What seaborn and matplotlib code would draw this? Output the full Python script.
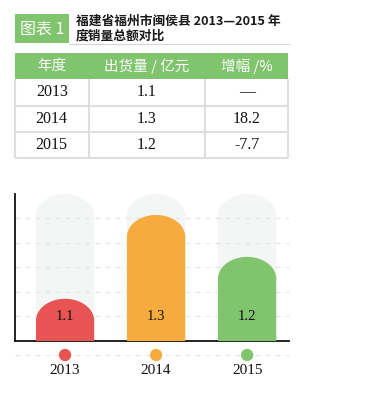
import numpy as np
import pandas as pd
import matplotlib
matplotlib.use("Agg")
import matplotlib.pyplot as plt
from matplotlib.path import Path
from matplotlib.patches import PathPatch, Rectangle
import seaborn as sns

# ---------------- data ----------------
years = ["2013", "2014", "2015"]
shipments = [1.1, 1.3, 1.2]          # 出货量 / 亿元
growth = ["—", "18.2", "-7.7"]       # 增幅 /%
header = ["年度", "出货量 / 亿元", "增幅 /%"]
bar_colors = ["#E85353", "#F5AB3D", "#80C46E"]
track_value = 1.35
y_min = 1.0
title_tag = "图表 1"
title_lines = ["福建省福州市闽侯县 2013—2015 年", "度销量总额对比"]

GREEN = "#80C46E"
LINE = "#DEDEDE"
CJK = ["Noto Sans CJK SC", "DejaVu Sans"]
SERIF = ["Liberation Serif", "DejaVu Serif"]

sns.set_theme(style="white")
plt.rcParams["font.family"] = CJK

W, H = 374, 400
fig = plt.figure(figsize=(W / 100, H / 100), dpi=100)
fig.patch.set_facecolor("white")

# ---------------- overlay (title + table) in pixel coords ----------------
ov = fig.add_axes([0, 0, 1, 1])
ov.set_xlim(0, W)
ov.set_ylim(H, 0)
ov.axis("off")

# title tag
ov.add_patch(Rectangle((15, 14), 54.3, 29.3, facecolor=GREEN, edgecolor="none"))
ov.text(42, 29, title_tag, color="white", fontsize=11.5, ha="center", va="center", family=CJK)
ov.text(76, 21.5, title_lines[0], color="#1a1a1a", fontsize=9.2, fontweight="bold",
        ha="left", va="center", family=CJK)
ov.text(76, 36, title_lines[1], color="#1a1a1a", fontsize=9.2, fontweight="bold",
        ha="left", va="center", family=CJK)
ov.plot([69, 289], [43.6, 43.6], color="#D5D5D5", lw=0.8)

# table
tx0, tx1 = 15, 288.3
col_edges = [15, 88.7, 204.7, 288.3]
col_centers = [51.7, 146.7, 246.7]
hy0, hy1 = 53.3, 79
row_edges = [79, 106, 132.3, 158.3]
ov.add_patch(Rectangle((tx0, hy0), tx1 - tx0, hy1 - hy0, facecolor=GREEN, edgecolor="none"))
for c, h in zip(col_centers, header):
    ov.text(c, (hy0 + hy1) / 2, h, color="white", fontsize=10.5, ha="center",
            va="center", family=CJK)
# grid lines of table
for x in col_edges:
    ov.plot([x, x], [hy1, row_edges[-1]], color=LINE, lw=1.5, solid_capstyle="butt")
for y in row_edges[1:]:
    ov.plot([tx0, tx1], [y, y], color=LINE, lw=1.5, solid_capstyle="butt")
for i, (yr, v, g) in enumerate(zip(years, shipments, growth)):
    yc = (row_edges[i] + row_edges[i + 1]) / 2
    ov.text(col_centers[0], yc, yr, fontsize=11.5, ha="center", va="center", family=SERIF, color="#111111")
    ov.text(col_centers[1], yc, f"{v:.1f}", fontsize=11.5, ha="center", va="center", family=SERIF, color="#111111")
    ov.text(col_centers[2], yc, g, fontsize=11.5, ha="center", va="center", family=SERIF, color="#111111")

# ---------------- bar chart ----------------
ax_left, ax_right = 15, 289
ax_top, ax_bottom = 194, 340.7
ax = fig.add_axes([ax_left / W, (H - ax_bottom) / H, (ax_right - ax_left) / W, (ax_bottom - ax_top) / H])
ax.set_facecolor("none")

df = pd.DataFrame({"year": years, "value": shipments, "track": [track_value] * len(years)})
sns.barplot(data=df, x="year", y="track", color="#F4F6F5", width=0.64, saturation=1, ax=ax)
n_bg = len(ax.patches)
sns.barplot(data=df, x="year", y="value", hue="year", palette=bar_colors, legend=False,
            width=0.64, saturation=1, ax=ax)

ax.set_xlim(-0.55, 2.46)
ax.set_ylim(y_min, track_value)

# rounded (capsule) tops for every bar
px_per_unit = (ax_bottom - ax_top) / (track_value - y_min)
ry = 22 / px_per_unit
patches = list(ax.patches)
for i, p in enumerate(patches):
    x0, w, top = p.get_x(), p.get_width(), p.get_height()
    fc = p.get_facecolor()
    p.set_visible(False)
    cx = x0 + w / 2
    t = np.linspace(np.pi, 0, 60)
    arc = np.column_stack([cx + (w / 2) * np.cos(t), (top - ry) + ry * np.sin(t)])
    verts = np.vstack([[x0, y_min - 0.05], arc, [x0 + w, y_min - 0.05], [x0, y_min - 0.05]])
    codes = [Path.MOVETO] + [Path.LINETO] * (len(verts) - 2) + [Path.CLOSEPOLY]
    ax.add_patch(PathPatch(Path(verts, codes), facecolor=fc, edgecolor="none",
                           zorder=1 if i < n_bg else 3))

# dashed grid
step = (track_value - y_min) / 6
for k in range(1, 6):
    ax.axhline(y_min + k * step, color="#E6E6E6", lw=0.9, ls=(0, (4, 4)), zorder=2)

# value labels
for i, v in enumerate(shipments):
    ax.text(i, y_min + step, f"{v:.1f}", fontsize=10.5, ha="center", va="center",
            family=SERIF, color="#111111", zorder=4)

# dots + dashed line below the axis
dot_y = y_min - 14.3 / px_per_unit
ax.plot([-0.55, 2.46], [dot_y, dot_y], color="#E6E6E6", lw=0.9, ls=(0, (4, 4)),
        clip_on=False, zorder=2)
ax.scatter(range(len(years)), [dot_y] * len(years), s=78, c=bar_colors,
           clip_on=False, zorder=5, linewidths=0)

# axes styling
sns.despine(ax=ax)
ax.spines["left"].set_color("#111111")
ax.spines["bottom"].set_color("#111111")
ax.spines["left"].set_linewidth(1.3)
ax.spines["bottom"].set_linewidth(1.3)
ax.set_yticks([])
ax.set_xlabel("")
ax.set_ylabel("")
ax.set_xticks(range(len(years)))
ax.set_xticklabels(years, family=SERIF, fontsize=11, color="#111111")
ax.tick_params(axis="x", length=0, pad=17)

fig.savefig("out.png", dpi=100)
